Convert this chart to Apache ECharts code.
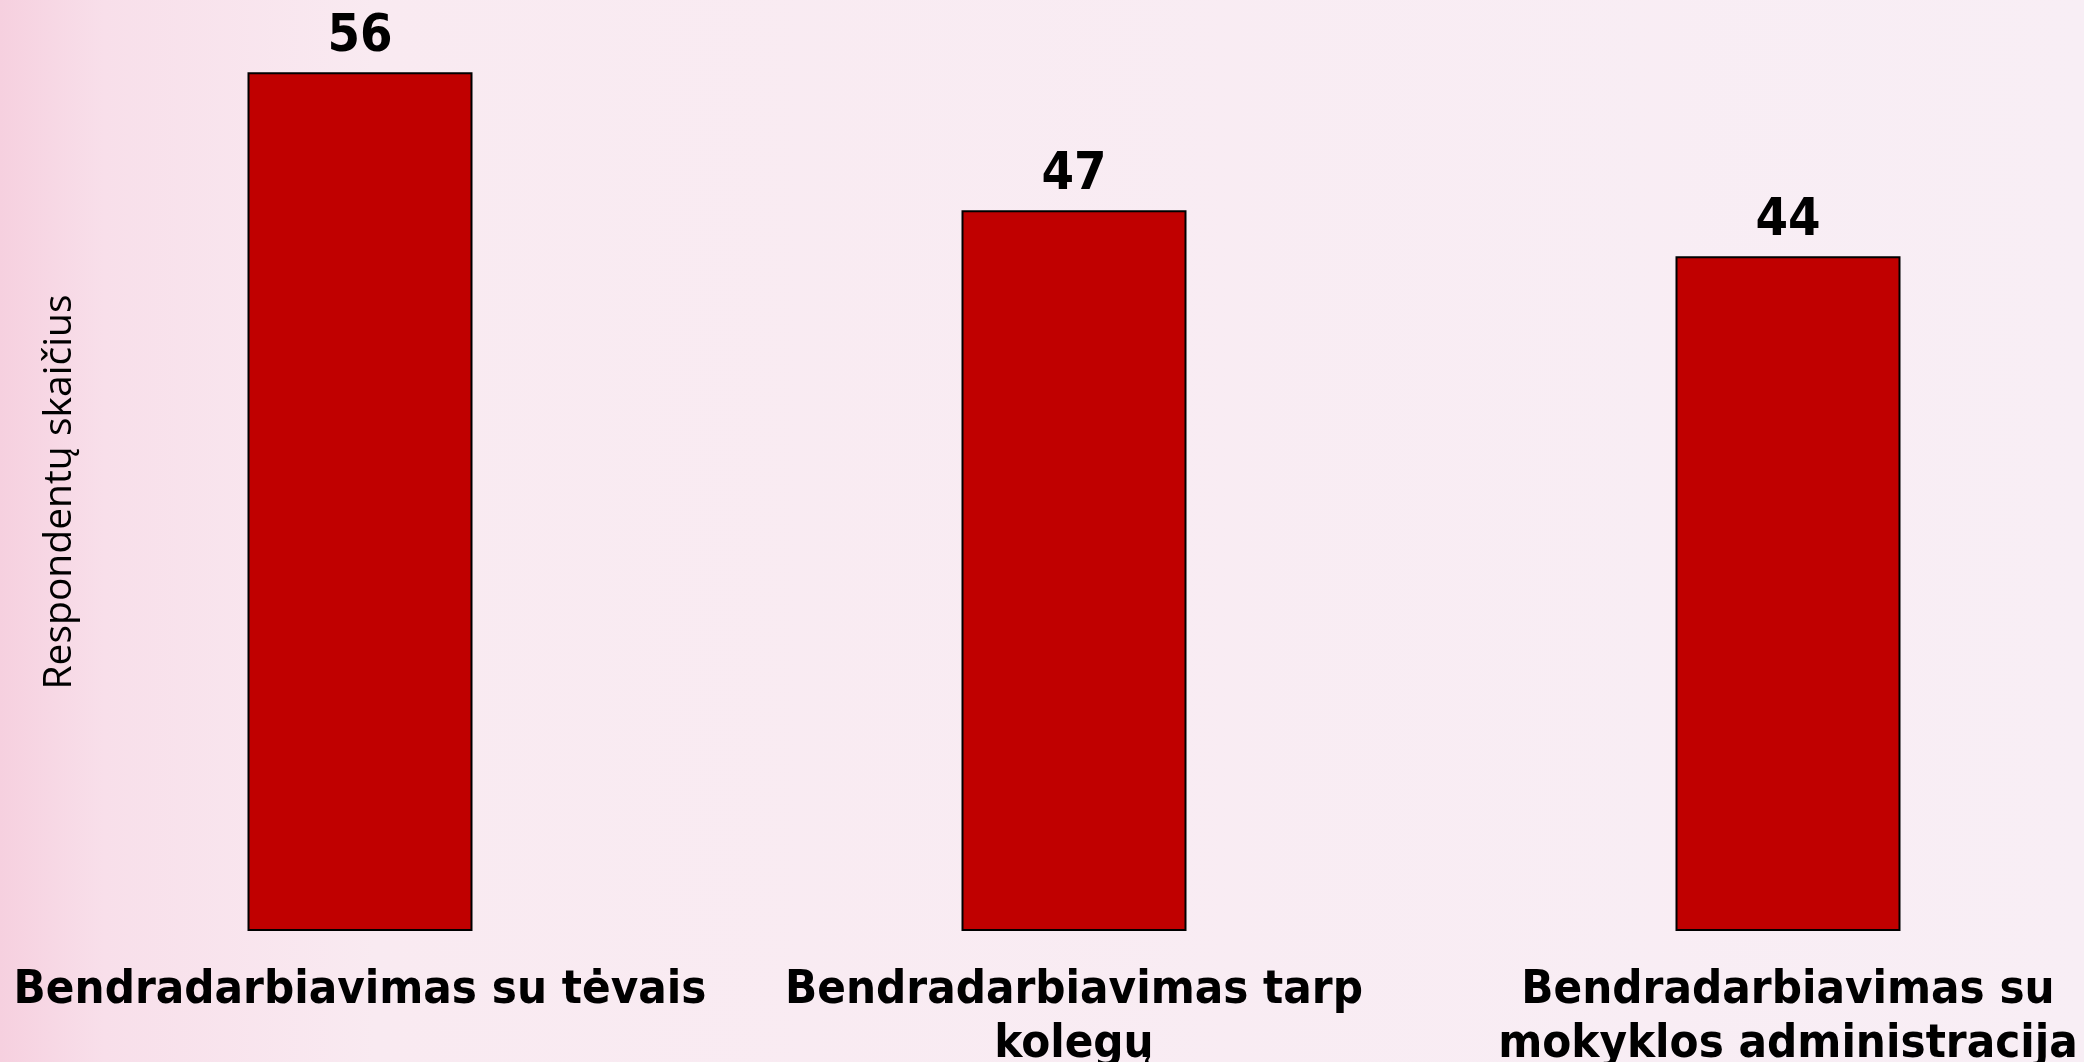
<!DOCTYPE html>
<html>
<head>
<meta charset="utf-8">
<script src="https://cdn.jsdelivr.net/npm/echarts@6/dist/echarts.min.js"></script>
<style>
  html, body { margin: 0; padding: 0; background: #f8edf5; }
  #chart { width: 2084px; height: 1062px; }
</style>
</head>
<body>
<div id="chart"></div>
<script>
  // categories and values
  const categories = [
    'Bendradarbiavimas su tėvais',
    'Bendradarbiavimas tarp\nkolegų',
    'Bendradarbiavimas su\nmokyklos administracija'
  ]
  const values = [56, 47, 44]
  const yAxisName = 'Respondentų skaičius'

  const chart = echarts.init(document.getElementById('chart'))

  chart.setOption({
    backgroundColor: new echarts.graphic.LinearGradient(0, 0, 1, 0, [
      { offset: 0, color: '#f6d0df' },
      { offset: 0.05, color: '#f8dfea' },
      { offset: 0.18, color: '#f9eaf1' },
      { offset: 1, color: '#f8eef5' }
    ]),
    animation: false,
    grid: {
      left: 3,
      top: 11,
      width: 2142,
      height: 920,
      containLabel: false,
      outerBoundsMode: 'none'
    },
    xAxis: {
      type: 'category',
      data: categories,
      axisLine: { show: false },
      axisTick: { show: false },
      axisLabel: {
        margin: 33,
        color: '#000',
        fontFamily: 'DejaVu Sans Condensed',
        fontWeight: 'bold',
        fontSize: 47,
        lineHeight: 54,
        interval: 0
      }
    },
    yAxis: {
      type: 'value',
      min: 0,
      max: 60,
      axisLine: { show: false },
      axisTick: { show: false },
      axisLabel: { show: false },
      splitLine: { show: false }
    },
    // rotated axis title, placed as in the picture
    graphic: [{
      type: 'text',
      x: 60,
      y: 492,
      rotation: Math.PI / 2,
      style: {
        text: yAxisName,
        fill: '#000',
        font: '39px "Open Sans"',
        align: 'center',
        verticalAlign: 'middle'
      }
    }],
    series: [{
      type: 'bar',
      data: values,
      barWidth: 225,
      itemStyle: {
        color: '#c00000',
        borderColor: '#000',
        borderWidth: 2
      },
      label: {
        show: true,
        position: 'top',
        distance: 9,
        color: '#000',
        fontFamily: 'DejaVu Sans Condensed',
        fontWeight: 'bold',
        fontSize: 52
      }
    }]
  })
</script>
</body>
</html>
